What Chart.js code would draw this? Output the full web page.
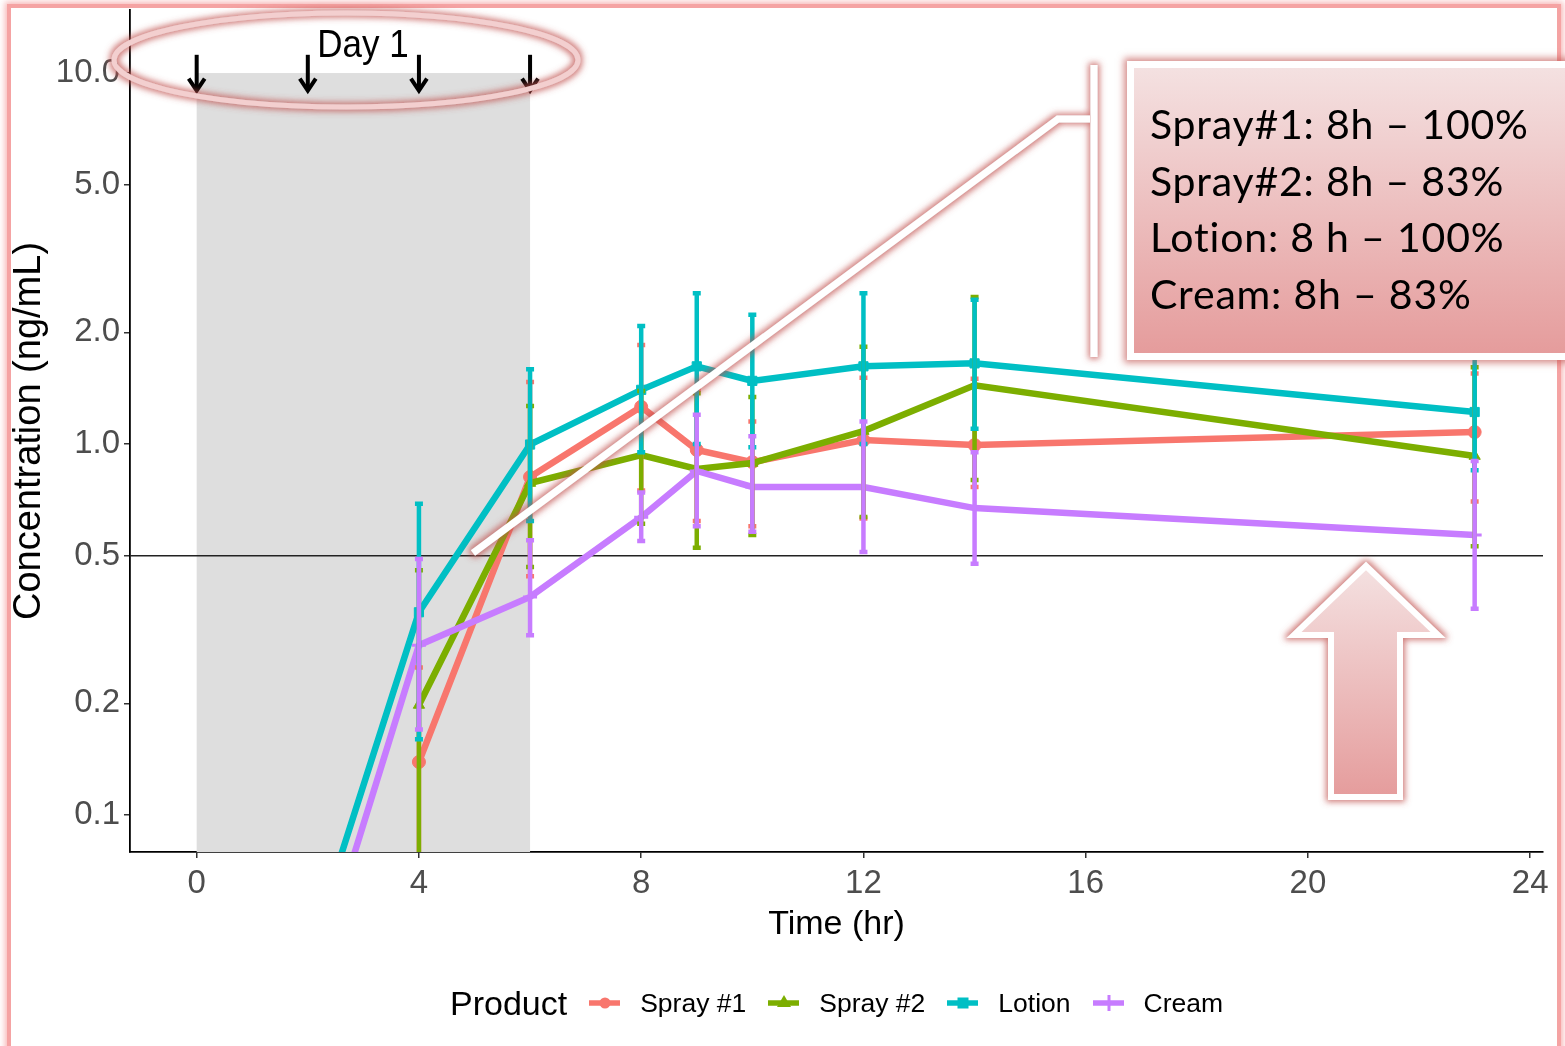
<!DOCTYPE html>
<html><head><meta charset="utf-8">
<script src="https://cdn.jsdelivr.net/npm/chart.js@4.4.0/dist/chart.umd.min.js"></script>
<style>
html,body{margin:0;padding:0;background:#fff;width:1565px;height:1046px;overflow:hidden;position:relative;}
#frame{position:absolute;left:7px;top:4px;width:1546px;height:1038px;border:4px solid #f5a3a3;box-shadow:0 0 6px 2px rgba(240,120,120,0.55);z-index:0;}
#c{position:absolute;left:0;top:0;z-index:1;}
#ov{position:absolute;left:0;top:0;z-index:2;}
#day{position:absolute;left:363px;top:24px;transform:translateX(-50%) scaleY(1.13);transform-origin:50% 0;font:35px "Liberation Sans",Arial,sans-serif;line-height:34px;color:#000;white-space:nowrap;z-index:3;}
#box{position:absolute;left:1127px;top:61px;width:460px;height:285px;border:7px solid #fff;background:linear-gradient(#f4e1e1,#e59c9c);box-shadow:0 0 7px 3px rgba(192,80,77,0.65);z-index:3;}
.bl{position:absolute;left:1150px;font:41px Lato,sans-serif;letter-spacing:0.8px;line-height:56.7px;color:#000;white-space:nowrap;z-index:4;}
#legend{position:absolute;left:450px;top:983px;height:40px;display:flex;align-items:center;font-family:"Liberation Sans",Arial,sans-serif;color:#000;z-index:3;white-space:nowrap;}
#legend .ttl{font-size:34px;margin-right:22px;}
#legend .lab{font-size:26.5px;margin-left:20px;margin-right:22px;}
</style></head>
<body>
<div id="frame"></div>
<canvas id="c" width="1565" height="1046"></canvas>
<svg id="ov" width="1565" height="1046" xmlns="http://www.w3.org/2000/svg">
  <defs>
    <filter id="glow" filterUnits="userSpaceOnUse" x="0" y="0" width="1565" height="1046">
      <feMorphology in="SourceAlpha" operator="dilate" radius="2" result="d"/>
      <feGaussianBlur in="d" stdDeviation="3" result="b"/>
      <feFlood flood-color="#c0504d" flood-opacity="0.75"/>
      <feComposite in2="b" operator="in" result="g"/>
      <feMerge><feMergeNode in="g"/><feMergeNode in="SourceGraphic"/></feMerge>
    </filter>
    <linearGradient id="ag" x1="0" y1="0" x2="0" y2="1">
      <stop offset="0" stop-color="#f4e1e1"/>
      <stop offset="1" stop-color="#e59c9c"/>
    </linearGradient>
  </defs>
  <ellipse cx="346" cy="60" rx="232" ry="47" fill="none" stroke="#f3cfcf" stroke-width="5" filter="url(#glow)"/>
  <g filter="url(#glow)">
    <path d="M473,553 L1058,119 L1090,119" fill="none" stroke="#fff" stroke-width="7"/>
    <path d="M1094,65 L1094,357" fill="none" stroke="#fff" stroke-width="7"/>
  </g>
  <polygon points="1366,566 1438,635 1400,635 1400,797 1331,797 1331,635 1294,635" fill="url(#ag)" stroke="#fff" stroke-width="6" stroke-linejoin="miter" filter="url(#glow)"/>
</svg>
<div id="day">Day 1</div>
<div id="box"></div>
<div class="bl" style="top:96px">Spray#1: 8h – 100%</div>
<div class="bl" style="top:153px">Spray#2: 8h – 83%</div>
<div class="bl" style="top:209px">Lotion: 8 h – 100%</div>
<div class="bl" style="top:266px">Cream: 8h – 83%</div>
<div id="legend"></div>
<script>
// ---- data ----
const times = [2, 4, 6, 8, 9, 10, 12, 14, 23];
const spray1Mean = [null, 0.139, 0.815, 1.26, 0.964, 0.894, 1.025, 0.994, 1.077];
const spray1Lo   = [null, 0.07, 0.44, 0.75, 0.62, 0.60, 0.63, 0.766, 0.70];
const spray1Hi   = [null, 0.25, 1.47, 1.85, 1.40, 1.15, 1.51, 1.50, 1.55];
const spray2Mean = [null, 0.198, 0.785, 0.934, 0.857, 0.889, 1.084, 1.44, 0.928];
const spray2Lo   = [null, 0.05, 0.466, 0.61, 0.525, 0.569, 0.636, 0.80, 0.53];
const spray2Hi   = [null, 0.457, 1.266, 1.39, 1.37, 1.34, 1.83, 2.49, 1.61];
const lotionMean = [0.041, 0.352, 0.997, 1.40, 1.62, 1.48, 1.62, 1.65, 1.22];
const lotionLo   = [null, 0.16, 0.62, 0.95, 1.0, 0.98, 1.0, 1.1, 0.85];
const lotionHi   = [null, 0.69, 1.59, 2.08, 2.55, 2.23, 2.55, 2.45, 1.80];
const creamMean  = [0.031, 0.287, 0.387, 0.635, 0.846, 0.766, 0.766, 0.672, 0.569];
const creamLo    = [null, 0.17, 0.305, 0.548, 0.60, 0.58, 0.512, 0.476, 0.36];
const creamHi    = [null, 0.49, 0.55, 0.74, 1.20, 1.05, 1.15, 0.95, 0.90];
const productNames = ['Spray #1', 'Spray #2', 'Lotion', 'Cream'];
const xTicks = [0, 4, 8, 12, 16, 20, 24];
const yTicks = [0.1, 0.2, 0.5, 1, 2, 5, 10];
const yTickLabels = ['0.1', '0.2', '0.5', '1.0', '2.0', '5.0', '10.0'];
const doseTimes = [0, 2, 4, 6];
const doseWindow = [0, 6];
const bandTop = 10;
const refLevel = 0.5;
const arrowFrom = 11.2, arrowTo = 8.8;

// ---- styles ----
const colors = ['#F8766D', '#7CAE00', '#00BFC4', '#C77CFF'];
const shapes = ['circle', 'triangle', 'rect', 'cross'];
const means = [spray1Mean, spray2Mean, lotionMean, creamMean];
const los = [spray1Lo, spray2Lo, lotionLo, creamLo];
const his = [spray1Hi, spray2Hi, lotionHi, creamHi];

const datasets = productNames.map((name, k) => ({
  label: name,
  data: times.map((t, i) => ({x: t, y: means[k][i]})),
  borderColor: colors[k],
  backgroundColor: colors[k],
  borderWidth: 6.5,
  pointStyle: shapes[k],
  pointRadius: shapes[k] === 'cross' ? 7 : 6.5,
  pointBorderWidth: shapes[k] === 'cross' ? 3 : 1,
  tension: 0,
  spanGaps: false,
  order: 4 - k
}));

const bandPlugin = {
  id: 'band',
  beforeDatasetsDraw(chart) {
    const {ctx, chartArea: a, scales: {x, y}} = chart;
    ctx.save();
    ctx.fillStyle = '#dedede';
    const x0 = x.getPixelForValue(doseWindow[0]), x1 = x.getPixelForValue(doseWindow[1]);
    const yt = y.getPixelForValue(bandTop);
    ctx.fillRect(x0, yt, x1 - x0, a.bottom - yt);
    ctx.strokeStyle = '#222';
    ctx.lineWidth = 1.6;
    const yr = y.getPixelForValue(refLevel);
    ctx.beginPath(); ctx.moveTo(a.left, yr); ctx.lineTo(a.right, yr); ctx.stroke();
    ctx.restore();
  },
  afterDatasetsDraw(chart) {
    const {ctx, chartArea: a, scales: {x, y}} = chart;
    ctx.save();
    ctx.beginPath(); ctx.rect(a.left, a.top, a.right - a.left, a.bottom - a.top); ctx.clip();
    ctx.lineWidth = 4.5;
    productNames.forEach((n, k) => {
      ctx.strokeStyle = colors[k];
      times.forEach((t, i) => {
        if (los[k][i] == null || his[k][i] == null) return;
        const px = x.getPixelForValue(t);
        const yl = y.getPixelForValue(los[k][i]);
        const yh = y.getPixelForValue(his[k][i]);
        ctx.beginPath();
        ctx.moveTo(px, yl); ctx.lineTo(px, yh);
        ctx.moveTo(px - 4, yl); ctx.lineTo(px + 4, yl);
        ctx.moveTo(px - 4, yh); ctx.lineTo(px + 4, yh);
        ctx.stroke();
      });
    });
    ctx.restore();
    // dose arrows
    ctx.save();
    ctx.strokeStyle = '#000'; ctx.fillStyle = '#000'; ctx.lineWidth = 4;
    ctx.lineCap = 'butt'; ctx.lineJoin = 'miter';
    doseTimes.forEach(t => {
      const px = x.getPixelForValue(t);
      const y0 = y.getPixelForValue(arrowFrom), y1 = y.getPixelForValue(arrowTo);
      ctx.beginPath(); ctx.moveTo(px, y0); ctx.lineTo(px, y1 - 4); ctx.stroke();
      ctx.beginPath(); ctx.moveTo(px - 8, y1 - 15); ctx.lineTo(px, y1 - 3); ctx.lineTo(px + 8, y1 - 15);
      ctx.stroke();
    });
    ctx.restore();
  }
};

const tickFont = {family: '"Liberation Sans", Arial, sans-serif', size: 33};
new Chart(document.getElementById('c'), {
  type: 'line',
  data: {datasets},
  options: {
    responsive: false,
    animation: false,
    layout: {padding: {left: 0, top: 10, right: 22, bottom: 94}},
    plugins: {legend: {display: false}, tooltip: {enabled: false}},
    scales: {
      x: {
        type: 'linear', min: -1.2, max: 24.23,
        afterBuildTicks: s => { s.ticks = xTicks.map(v => ({value: v})); },
        afterFit: s => { s.height = 100; s.paddingLeft = 0; s.paddingRight = 0; },
        ticks: {font: tickFont, color: '#4d4d4d', padding: 6, autoSkip: false, maxRotation: 0,
          callback: (v, i) => String(xTicks[i])},
        grid: {drawOnChartArea: false, drawTicks: true, tickLength: 6, color: '#333', lineWidth: 1.5},
        border: {display: true, color: '#000', width: 1.8},
        title: {display: true, text: 'Time (hr)', color: '#000',
          font: {family: '"Liberation Sans", Arial, sans-serif', size: 34}, padding: {top: 0, bottom: 7}}
      },
      y: {
        type: 'logarithmic', min: 0.0795, max: 14.79,
        afterBuildTicks: s => { s.ticks = yTicks.map(v => ({value: v})); },
        afterFit: s => { s.width = 130; s.paddingTop = 0; s.paddingBottom = 0; },
        ticks: {font: tickFont, color: '#4d4d4d', padding: 4, autoSkip: false,
          callback: (v, i) => yTickLabels[i]},
        grid: {drawOnChartArea: false, drawTicks: true, tickLength: 6, color: '#333', lineWidth: 1.5},
        border: {display: true, color: '#000', width: 1.8},
        title: {display: true, text: 'Concentration (ng/mL)', color: '#000',
          font: {family: '"Liberation Sans", Arial, sans-serif', size: 38}, padding: {top: 7, bottom: 0}}
      }
    }
  },
  plugins: [bandPlugin]
});

// ---- legend built from the datasets ----
const lg = document.getElementById('legend');
const t = document.createElement('span'); t.className = 'ttl'; t.textContent = 'Product'; lg.appendChild(t);
function keySvg(color, shape) {
  let m = '';
  if (shape === 'circle') m = `<circle cx="16" cy="10" r="5.5" fill="${color}"/>`;
  if (shape === 'triangle') m = `<polygon points="16,2 23,14 9,14" fill="${color}"/>`;
  if (shape === 'rect') m = `<rect x="10.5" y="4.5" width="11" height="11" fill="${color}"/>`;
  if (shape === 'cross') m = `<path d="M16,2 L16,18 M8,10 L24,10" stroke="${color}" stroke-width="3"/>`;
  return `<svg width="31" height="20"><line x1="0" y1="10" x2="31" y2="10" stroke="${color}" stroke-width="5.5"/>${m}</svg>`;
}
datasets.forEach((d, k) => {
  const s = document.createElement('span'); s.style.display = 'inline-flex';
  s.innerHTML = keySvg(d.borderColor, d.pointStyle); lg.appendChild(s);
  const l = document.createElement('span'); l.className = 'lab'; l.textContent = d.label;
  if (k === datasets.length - 1) l.style.marginRight = '0';
  lg.appendChild(l);
});
</script>
</body></html>
